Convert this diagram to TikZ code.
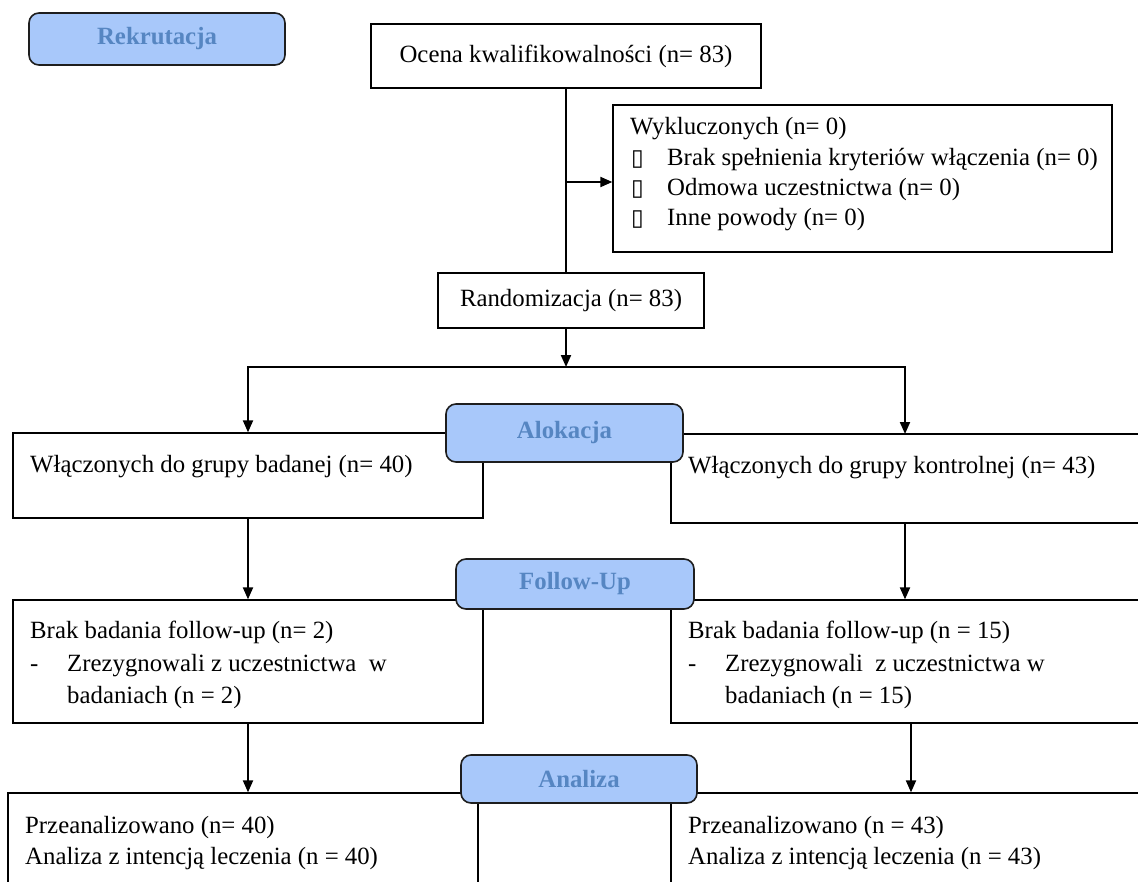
\documentclass[tikz,border=0pt]{standalone}
\usepackage{fontspec}
\setmainfont{Liberation Serif}
\newfontfamily\symfont{DejaVu Sans}
\usetikzlibrary{arrows.meta}
\definecolor{hdrfill}{RGB}{168,200,250}
\definecolor{hdrtext}{RGB}{86,134,194}
\definecolor{hdrline}{RGB}{30,30,30}
\newcommand{\bul}{\makebox[37pt][l]{\hspace{1pt}{\symfont\fontsize{23}{24}\selectfont ▯}}}
\newcommand{\dsh}{\makebox[37pt][l]{-}}
\tikzset{
  box/.style={draw=black, line width=1.3pt, fill=white, inner sep=0pt, font=\fontsize{24.8}{31}\selectfont},
  hdr/.style={draw=hdrline, line width=1.6pt, fill=hdrfill, rounded corners=10pt, text=hdrtext, font=\fontsize{24.8}{29}\selectfont\bfseries, inner sep=0pt},
  txt/.style={anchor=base west, inner sep=0pt, font=\fontsize{24.8}{31}\selectfont},
  conn/.style={line width=2pt},
  arr/.style={conn, -{Triangle[length=12pt,width=10pt]}},
}
\begin{document}
\begin{tikzpicture}[x=1pt,y=-1pt]
\useasboundingbox (0,0) rectangle (1138,881);
\clip (0,0) rectangle (1138,881);
% boxes
\node[box, minimum width=390pt, minimum height=64pt] (ocena) at (566,56) {Ocena kwalifikowalności (n= 83)};
\node[box, minimum width=499pt, minimum height=147pt] (excl) at (862.5,178.5) {};
\node[box, minimum width=266pt, minimum height=55pt] (rand) at (571,300.5) {Randomizacja (n= 83)};
\node[box, minimum width=470pt, minimum height=85pt] (wl) at (248,475.5) {};
\node[box, minimum width=480pt, minimum height=89pt] (wr) at (911,478.5) {};
\node[box, minimum width=470pt, minimum height=123pt] (bl) at (248,661.5) {};
\node[box, minimum width=480pt, minimum height=123pt] (br) at (911,661.5) {};
\node[box, minimum width=470pt, minimum height=107pt] (al) at (243,846.5) {};
\node[box, minimum width=480pt, minimum height=107pt] (ar) at (911,846.5) {};
% texts
\node[txt] (ex1) at (630,134) {Wykluczonych (n= 0)};
\node[txt] (ex2) at (630,165) {\bul Brak spełnienia kryteriów włączenia (n= 0)};
\node[txt] (ex3) at (630,195) {\bul Odmowa uczestnictwa (n= 0)};
\node[txt] (ex4) at (630,225) {\bul Inne powody (n= 0)};
\node[txt] (wlt) at (30,472) {Włączonych do grupy badanej (n= 40)};
\node[txt] (wrt) at (688,473) {Włączonych do grupy kontrolnej (n= 43)};
\node[txt] (bl1) at (30,638) {Brak badania follow-up (n= 2)};
\node[txt] (bl2) at (30,671) {\dsh Zrezygnowali z uczestnictwa\ \ w};
\node[txt] (bl3) at (67,703) {badaniach (n = 2)};
\node[txt] (br1) at (688,638) {Brak badania follow-up (n = 15)};
\node[txt] (br2) at (688,671) {\dsh Zrezygnowali\ \ z uczestnictwa w};
\node[txt] (br3) at (725,703) {badaniach (n = 15)};
\node[txt] (al1) at (25,833) {Przeanalizowano (n= 40)};
\node[txt] (al2) at (25,864) {Analiza z intencją leczenia (n = 40)};
\node[txt] (ar1) at (688,833) {Przeanalizowano (n = 43)};
\node[txt] (ar2) at (688,864) {Analiza z intencją leczenia (n = 43)};
% connectors
\coordinate (exbr) at (566,182);
\coordinate (split) at (566,367);
\coordinate (wrin) at (905,434);
\coordinate (wrout) at (905,523);
\draw[conn] (ocena.south) -- (ocena.south |- rand.north);
\draw[arr] (exbr) -- (exbr -| excl.west);
\draw[arr] (ocena.south |- rand.south) -- (split);
\draw[arr] (split) -| (wl.north);
\draw[arr] (split) -| (wrin);
\draw[arr] (wl.south) -- (wl.south |- bl.north);
\draw[arr] (wrout) -- (wrout |- br.north);
\draw[arr] (bl.south) -- (bl.south |- al.north);
\draw[arr] (br.south) -- (br.south |- ar.north);
% headers
\node[hdr, minimum width=256pt, minimum height=52pt] (rek) at (157,39) {\raisebox{-2pt}{Rekrutacja}};
\node[hdr, minimum width=237pt, minimum height=58pt] (alok) at (564.5,433) {Alokacja};
\node[hdr, minimum width=238pt, minimum height=50pt] (fu) at (575,584) {\raisebox{-1pt}{Follow-Up}};
\node[hdr, minimum width=236pt, minimum height=48pt] (an) at (579,779) {Analiza};
\end{tikzpicture}
\end{document}
